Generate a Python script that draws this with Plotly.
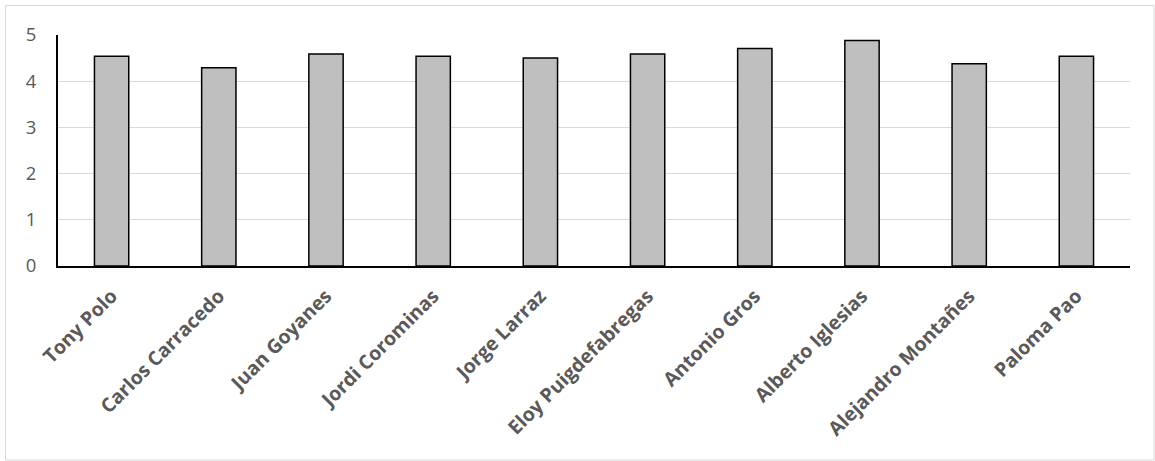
import plotly.graph_objects as go

names = ["Tony Polo", "Carlos Carracedo", "Juan Goyanes", "Jordi Corominas", "Jorge Larraz",
         "Eloy Puigdefabregas", "Antonio Gros", "Alberto Iglesias", "Alejandro Montañes", "Paloma Pao"]
scores = [4.54, 4.29, 4.59, 4.54, 4.50, 4.59, 4.71, 4.88, 4.38, 4.54]
y_ticks = [0, 1, 2, 3, 4, 5]

W, H = 1155, 461
L, R, T, B = 58, 25, 35, 195
pw, ph = W - L - R, H - T - B

fig = go.Figure(go.Bar(
    x=names, y=scores,
    marker=dict(color="#BFBFBF", line=dict(color="#000000", width=1.5)),
))

def px_x(p):
    return (p - L) / pw

def px_y(p):
    return (H - B - p) / ph

fig.add_shape(type="rect", xref="paper", yref="paper",
              x0=px_x(5.5), x1=px_x(1154), y0=px_y(5.5), y1=px_y(460),
              line=dict(color="#D9D9D9", width=1), layer="below")

fig.update_layout(
    width=W, height=H,
    margin=dict(l=L, r=R, t=T, b=B),
    paper_bgcolor="white", plot_bgcolor="white",
    bargap=0.68, showlegend=False,
    font=dict(family="Open Sans", color="#595959"),
)
fig.update_xaxes(
    tickangle=-45, showline=True, linecolor="#000000", linewidth=2,
    showgrid=False, ticks="", ticklabelstandoff=9,
    tickfont=dict(family="Open Sans", size=19.5, color="#595959", weight="bold"),
)
fig.update_yaxes(
    range=[0, 5], tickvals=y_ticks, showline=True, linecolor="#000000", linewidth=2,
    showgrid=True, gridcolor="#D9D9D9", gridwidth=1, ticks="", zeroline=False,
    tickfont=dict(family="Open Sans", size=18.5, color="#595959"),
    ticklabelstandoff=16,
)

fig.write_html("out.html", config={"displayModeBar": False},
               post_script="document.body.style.margin='0';document.body.style.padding='0';")
